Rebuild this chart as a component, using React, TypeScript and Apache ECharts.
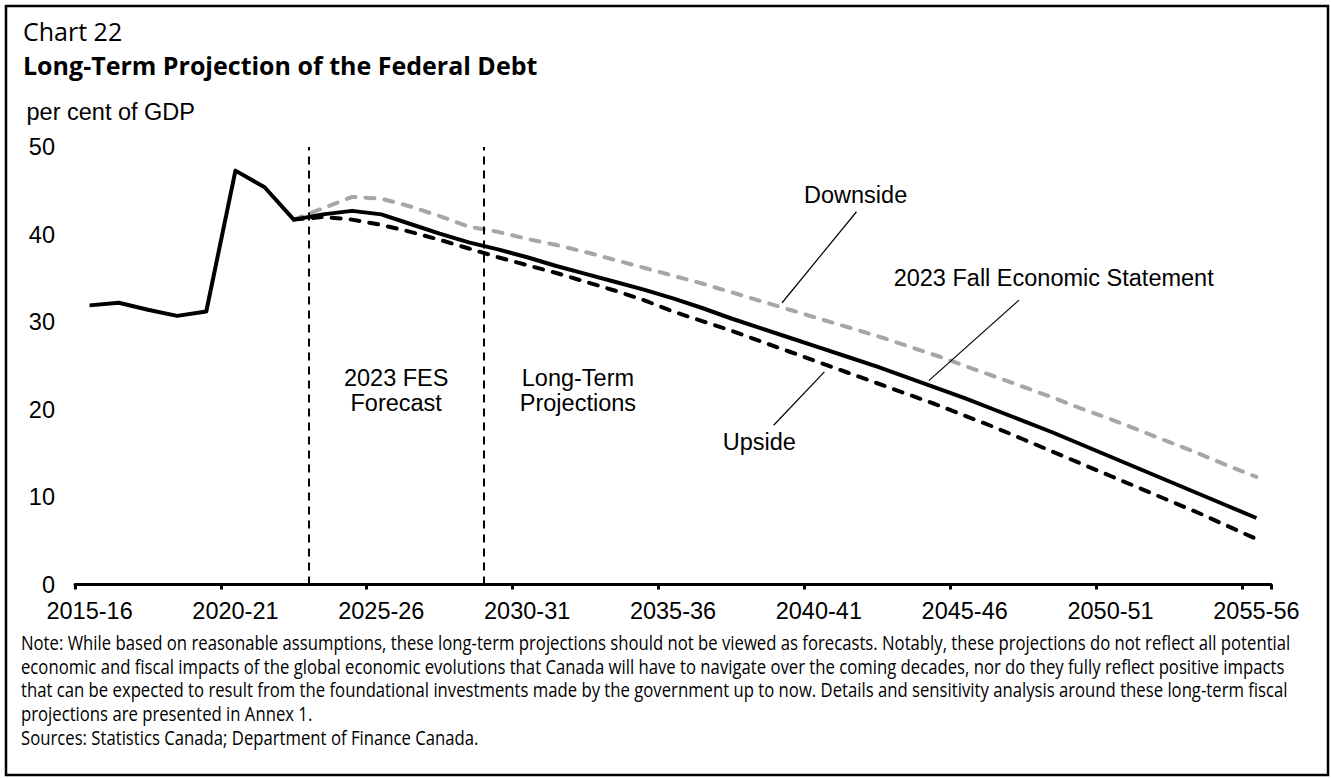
import React, { useEffect, useRef } from 'react';
import * as echarts from 'echarts';

// ---------- data ----------
const years = [
  '2015-16', '2016-17', '2017-18', '2018-19', '2019-20', '2020-21', '2021-22', '2022-23', '2023-24', '2024-25',
  '2025-26', '2026-27', '2027-28', '2028-29', '2029-30', '2030-31', '2031-32', '2032-33', '2033-34', '2034-35',
  '2035-36', '2036-37', '2037-38', '2038-39', '2039-40', '2040-41', '2041-42', '2042-43', '2043-44', '2044-45',
  '2045-46', '2046-47', '2047-48', '2048-49', '2049-50', '2050-51', '2051-52', '2052-53', '2053-54', '2054-55',
  '2055-56',
];

const fallStatement = [
  31.9, 32.2, 31.4, 30.7, 31.2, 47.3, 45.4, 41.7, 42.3, 42.7,
  42.3, 41.2, 40.1, 39.1, 38.3, 37.4, 36.4, 35.5, 34.6, 33.7,
  32.7, 31.6, 30.4, 29.3, 28.2, 27.1, 26.0, 24.9, 23.7, 22.5,
  21.3, 20.0, 18.7, 17.4, 16.0, 14.6, 13.2, 11.8, 10.4, 9.0,
  7.6,
];

const downside = [
  null, null, null, null, null, null, null, 41.7, 43.0, 44.3,
  44.1, 43.2, 42.1, 40.9, 40.3, 39.5, 38.8, 38.0, 37.1, 36.2,
  35.3, 34.4, 33.4, 32.4, 31.4, 30.4, 29.4, 28.4, 27.3, 26.2,
  25.0, 23.8, 22.6, 21.4, 20.1, 18.9, 17.6, 16.3, 15.0, 13.6,
  12.3,
];

const upside = [
  null, null, null, null, null, null, null, 41.7, 42.0, 41.7,
  41.1, 40.3, 39.4, 38.4, 37.4, 36.5, 35.6, 34.6, 33.6, 32.5,
  31.2, 30.1, 29.0, 27.8, 26.6, 25.4, 24.2, 23.0, 21.8, 20.6,
  19.3, 18.0, 16.6, 15.2, 13.8, 12.4, 11.0, 9.6, 8.2, 6.7,
  5.2,
];

// boundaries (in category units) where the forecast and long-term periods begin
const periodBoundaries = [8, 14];

const yMin = 0;
const yMax = 50;
const yInterval = 10;

const chartNumber = 'Chart 22';
const chartTitle = 'Long-Term Projection of the Federal Debt';
const unitLabel = 'per cent of GDP';
const noteLines = [
  'Note: While based on reasonable assumptions, these long-term projections should not be viewed as forecasts. Notably, these projections do not reflect all potential',
  'economic and fiscal impacts of the global economic evolutions that Canada will have to navigate over the coming decades, nor do they fully reflect positive impacts',
  'that can be expected to result from the foundational investments made by the government up to now. Details and sensitivity analysis around these long-term fiscal',
  'projections are presented in Annex 1.',
];
const sourceLine = 'Sources: Statistics Canada; Department of Finance Canada.';

// ---------- styling ----------
const ARIAL = '"Liberation Sans", Arial, Helvetica, sans-serif';
const UI_FONT = '"Open Sans", "Noto Sans", sans-serif';
const CHART_FS = 23.5;

function measure(text: string, font: string): number {
  const c = document.createElement('canvas').getContext('2d');
  if (!c) return 1;
  c.font = font;
  return c.measureText(text).width || 1;
}

export default function App() {
  const ref = useRef<HTMLDivElement>(null);

  useEffect(() => {
    if (!ref.current) return;
    const chart = echarts.init(ref.current, null, { renderer: 'svg' });

    const noteFont = `19.5px "Open Sans"`;
    const noteScale = 1270 / measure(noteLines[0], noteFont);
    const noteCenters = [642.3, 666.3, 689.7, 713.7];

    const textGraphics: any[] = [
      {
        type: 'rect',
        silent: true,
        shape: { x: 6, y: 6, width: 1322, height: 769 },
        style: { fill: 'none', stroke: '#000', lineWidth: 2.5 },
      },
      {
        type: 'text',
        x: 23,
        y: 30.5,
        style: {
          text: chartNumber,
          fill: '#000',
          font: `25px ${UI_FONT}`,
          textAlign: 'left',
          textVerticalAlign: 'middle',
        },
      },
      {
        type: 'text',
        x: 23,
        y: 65.3,
        style: {
          text: chartTitle,
          fill: '#000',
          font: `bold 25px ${UI_FONT}`,
          textAlign: 'left',
          textVerticalAlign: 'middle',
        },
      },
      {
        type: 'text',
        x: 26.5,
        y: 111.5,
        style: {
          text: unitLabel,
          fill: '#000',
          font: `${CHART_FS}px ${ARIAL}`,
          textAlign: 'left',
          textVerticalAlign: 'middle',
        },
      },
      ...noteLines.map((line, i) => ({
        type: 'text',
        x: 21,
        y: noteCenters[i],
        scaleX: noteScale,
        style: {
          text: line,
          fill: '#000',
          font: `19.5px ${UI_FONT}`,
          textAlign: 'left',
          textVerticalAlign: 'middle',
        },
      })),
      {
        type: 'text',
        x: 21,
        y: 737,
        scaleX: noteScale,
        style: {
          text: sourceLine,
          fill: '#000',
          font: `19.5px ${UI_FONT}`,
          textAlign: 'left',
          textVerticalAlign: 'middle',
        },
      },
    ];

    const annotationLabel = (text: string, coord: number[]) => ({
      coord,
      symbol: 'circle',
      symbolSize: 0,
      itemStyle: { color: 'rgba(0,0,0,0)' },
      label: {
        show: true,
        position: 'inside',
        formatter: text,
        color: '#000',
        fontSize: CHART_FS,
        fontFamily: ARIAL,
        lineHeight: 25.5,
        align: 'center',
      },
    });

    const leader = (a: number[], b: number[]) => [
      { coord: a, lineStyle: { color: '#000', width: 1.2, type: 'solid' } },
      { coord: b },
    ];

    const option: any = {
      animation: false,
      backgroundColor: '#fff',
      grid: { left: 75, right: 60, top: 147, bottom: 193.5, containLabel: false },
      xAxis: [
        {
          type: 'category',
          data: years,
          boundaryGap: true,
          axisLine: { show: true, lineStyle: { color: '#000', width: 3 } },
          axisTick: { show: true, interval: 4, length: 5, lineStyle: { color: '#000', width: 3 } },
          axisLabel: {
            interval: 4,
            color: '#000',
            fontSize: CHART_FS,
            fontFamily: ARIAL,
            margin: 14,
          },
          splitLine: { show: false },
        },
        {
          type: 'value',
          min: 0,
          max: years.length,
          show: false,
        },
      ],
      yAxis: {
        type: 'value',
        min: yMin,
        max: yMax,
        interval: yInterval,
        axisLine: { show: false },
        axisTick: { show: false },
        splitLine: { show: false },
        axisLabel: { color: '#000', fontSize: CHART_FS, fontFamily: ARIAL, margin: 20 },
      },
      graphic: textGraphics,
      series: [
        {
          name: 'Periods',
          type: 'line',
          xAxisIndex: 1,
          yAxisIndex: 0,
          data: [],
          silent: true,
          markLine: {
            silent: true,
            symbol: ['none', 'none'],
            animation: false,
            label: { show: false },
            emphasis: { disabled: true },
            data: [
              ...periodBoundaries.map((b) => ({
                xAxis: b,
                lineStyle: { color: '#000', width: 2, type: [8, 6] },
              })),
              leader([26.79, 42.6], [24.24, 32.2]),
              leader([32.36, 32.5], [29.27, 23.3]),
              leader([25.69, 24.3], [23.95, 18.2]),
            ],
          },
          markPoint: {
            silent: true,
            animation: false,
            data: [
              annotationLabel('Downside', [26.76, 44.5]),
              annotationLabel('2023 Fall Economic Statement', [33.55, 35.03]),
              annotationLabel('Upside', [23.46, 16.3]),
              annotationLabel('2023 FES\nForecast', [11.01, 22.2]),
              annotationLabel('Long-Term\nProjections', [17.24, 22.2]),
            ],
          },
        },
        {
          name: 'Downside',
          type: 'line',
          data: downside,
          showSymbol: false,
          symbol: 'none',
          lineStyle: { color: '#A6A6A6', width: 4, type: [9, 10], cap: 'round' },
        },
        {
          name: 'Upside',
          type: 'line',
          data: upside,
          showSymbol: false,
          symbol: 'none',
          lineStyle: { color: '#000', width: 4, type: [9, 10], cap: 'round' },
        },
        {
          name: '2023 Fall Economic Statement',
          type: 'line',
          data: fallStatement,
          showSymbol: false,
          symbol: 'none',
          lineStyle: { color: '#000', width: 4, type: 'solid', join: 'round' },
        },
      ],
    };

    chart.setOption(option);
    return () => chart.dispose();
  }, []);

  return (
    <div
      ref={ref}
      style={{ position: 'fixed', left: 0, top: 0, width: 1331, height: 778, background: '#fff' }}
    />
  );
}
